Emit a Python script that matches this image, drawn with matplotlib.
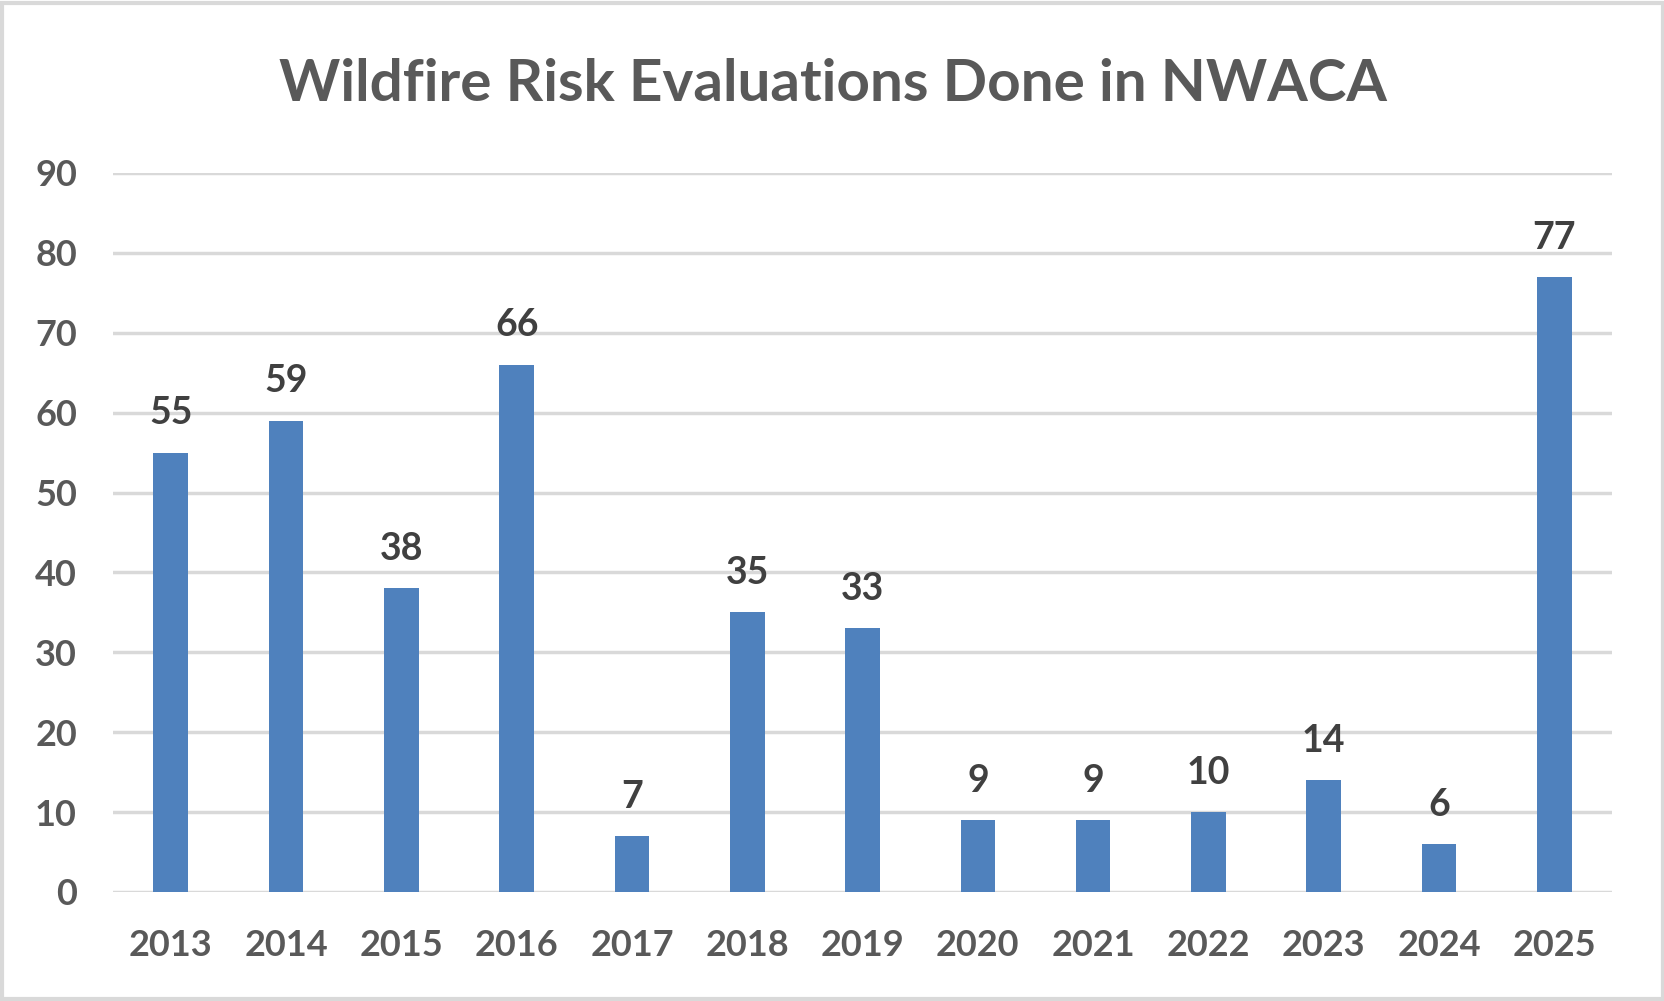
import matplotlib.pyplot as plt
from matplotlib.patches import Rectangle

# chart data
years = ["2013", "2014", "2015", "2016", "2017", "2018", "2019",
         "2020", "2021", "2022", "2023", "2024", "2025"]
evaluations = [55, 59, 38, 66, 7, 35, 33, 9, 9, 10, 14, 6, 77]
yticks = [0, 10, 20, 30, 40, 50, 60, 70, 80, 90]

plt.rcParams["font.family"] = ["Lato", "DejaVu Sans"]

fig = plt.figure(figsize=(16.65, 10.01), dpi=100)
ax = fig.add_axes([0.0679, 0.1089, 0.9003, 0.7183])

x = range(len(years))
ax.bar(x, evaluations, width=0.30, color="#4F81BD", zorder=3)

# value labels above bars
for xi, v in zip(x, evaluations):
    ax.annotate(str(v), (xi, v), xytext=(0, 16), textcoords="offset points",
                ha="center", va="bottom", fontsize=27, fontweight="bold",
                color="#404040")

ax.set_xlim(-0.5, len(years) - 0.5)
ax.set_ylim(0, 90)
ax.set_yticks(yticks)
ax.set_xticks(list(x))
ax.set_xticklabels(years)
ax.yaxis.grid(True, color="#D9D9D9", linewidth=2.5, zorder=0)
ax.tick_params(axis="both", length=0, labelsize=26, labelcolor="#595959")
ax.tick_params(axis="y", pad=26)
ax.tick_params(axis="x", pad=27)
for lab in ax.get_xticklabels() + ax.get_yticklabels():
    lab.set_fontweight("bold")
for s in ax.spines.values():
    s.set_visible(False)

fig.text(0.5, 0.916, "Wildfire Risk Evaluations Done in NWACA", ha="center",
         va="center", fontsize=42, fontweight="bold", color="#595959")

# outer chart border
fig.patches.append(Rectangle((0.0015, 0.002), 0.997, 0.995, transform=fig.transFigure,
                             fill=False, edgecolor="#D9D9D9", linewidth=3))

fig.savefig("out.png", dpi=100)
